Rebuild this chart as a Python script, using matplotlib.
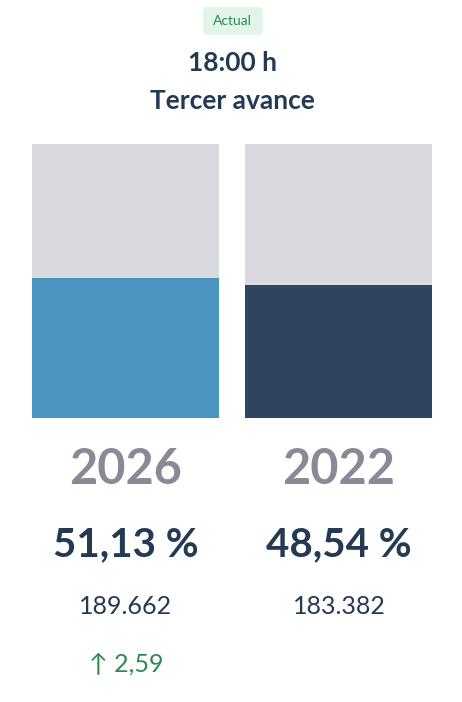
import matplotlib
matplotlib.use("Agg")
import matplotlib.pyplot as plt
from matplotlib.patches import FancyBboxPatch

years = ["2026", "2022"]
pct = [51.13, 48.54]
votes = ["189.662", "183.382"]
pct_labels = ["51,13 %", "48,54 %"]
diff_label = "↑ 2,59"
colors = ["#4a94c0", "#2e4560"]
W, H = 462, 702
fig = plt.figure(figsize=(W/100, H/100), dpi=100)
fig.patch.set_facecolor("white")
FONT = ["Lato", "DejaVu Sans"]
NAVY = "#243a52"

def fx(x): return x / W
def fy(y): return 1 - y / H

w = 0.882
ax = fig.add_axes([fx(32), fy(418), fx(432) - fx(32), (418 - 144) / H])
xs = [0, 1]
ax.bar(xs, [100, 100], width=w, color="#d9dadf")
ax.bar(xs, pct, width=w, color=colors)
ax.set_xlim(-w/2, 1 + w/2)
ax.set_ylim(0, 100)
ax.axis("off")

# badge
badge = FancyBboxPatch((fx(203), fy(35)), fx(60), 28/H, boxstyle="round,pad=0,rounding_size=0.008",
                       transform=fig.transFigure, facecolor="#e3f4e9", edgecolor="none")
fig.patches.append(badge)
fig.text(fx(232), fy(21), "Actual", ha="center", va="center", fontsize=10, color="#2d8a52", family=FONT)
fig.text(fx(232), fy(63), "18:00 h", ha="center", va="center", fontsize=19, fontweight="bold", color=NAVY, family=FONT)
fig.text(fx(232), fy(101), "Tercer avance", ha="center", va="center", fontsize=19, fontweight="bold", color=NAVY, family=FONT)

centers = [126, 339]
for c, yr, p, v in zip(centers, years, pct_labels, votes):
    fig.text(fx(c), fy(469), yr, ha="center", va="center", fontsize=35, fontweight="bold", color="#8a8a96", family=FONT)
    fig.text(fx(c), fy(545), p, ha="center", va="center", fontsize=29, fontweight="bold", color=NAVY, family=FONT)
    fig.text(fx(c), fy(607), v, ha="center", va="center", fontsize=18, color=NAVY, family=FONT)
fig.text(fx(126), fy(664), diff_label, ha="center", va="center", fontsize=18, color="#2d8a52", family=FONT)

fig.savefig("out.png", dpi=100)
